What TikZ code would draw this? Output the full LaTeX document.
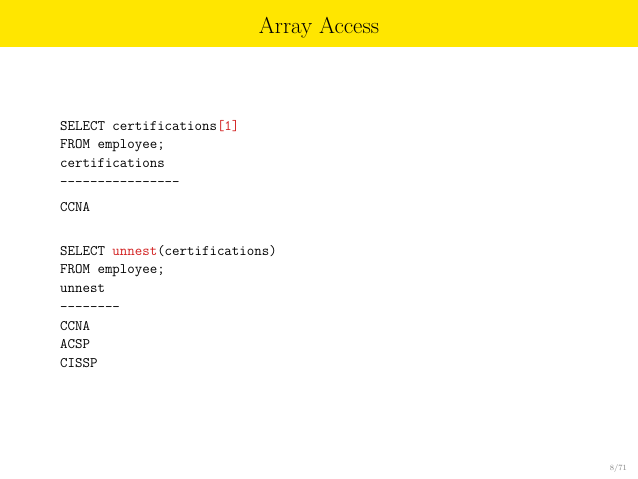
\documentclass[tikz,border=0pt]{standalone}
\usepackage{xcolor}
\definecolor{bar}{RGB}{255,230,0}
\definecolor{kw}{RGB}{210,30,30}
\tikzset{code/.style={anchor=base west,inner sep=0pt,font=\ttfamily\fontsize{14.5}{17}\selectfont}}
\begin{document}
\begin{tikzpicture}[x=1pt,y=1pt]
\useasboundingbox (0,0) rectangle (638,479);
\fill[white] (0,0) rectangle (638,479);
\fill[bar] (0,432) rectangle (638,479);
\node[font=\fontsize{23}{26}\selectfont,anchor=base] (title) at (319,445) {Array Access};
\node[code] (l1) at (60,348) {SELECT certifications\textcolor{kw}{[1]}};
\node[code] (l2) at (60,330) {FROM employee;};
\node[code] (l3) at (60,311) { certifications};
\node[code] (l4) at (60,292) {----------------};
\node[code] (l5) at (60,267) { CCNA};
\node[code] (l6) at (60,223) {SELECT \textcolor{kw}{unnest}(certifications)};
\node[code] (l7) at (60,205) {FROM employee;};
\node[code] (l8) at (60,186) { unnest};
\node[code] (l9) at (60,167) {--------};
\node[code] (l10) at (60,148) { CCNA};
\node[code] (l11) at (60,130) { ACSP};
\node[code] (l12) at (60,111) { CISSP};
\node[anchor=base east,inner sep=0pt,font=\fontsize{8}{9}\selectfont,text=gray] (pg) at (627,8) {8/71};
\end{tikzpicture}
\end{document}
